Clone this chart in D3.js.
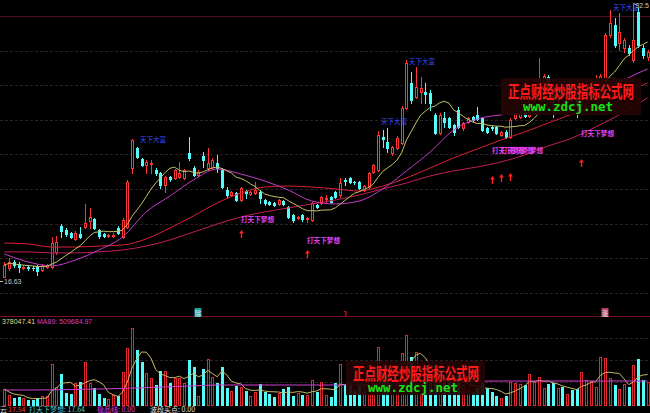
<!DOCTYPE html>
<html><head><meta charset="utf-8">
<script src="https://cdn.jsdelivr.net/npm/d3@7"></script>
<style>html,body{margin:0;padding:0;background:#000;overflow:hidden}</style>
</head><body><svg id="c" width="650" height="413"></svg>
<script>
const opens=[16.66,17.18,17.53,17.41,17.18,17.24,17.20,17.30,17.07,17.24,17.24,18.11,19.61,19.38,19.20,18.86,19.15,19.55,19.90,20.01,
19.38,19.15,19.03,19.03,19.49,18.97,19.55,22.96,24.12,23.48,23.13,23.19,22.84,22.67,21.98,22.44,22.38,22.44,22.38,23.83,
22.96,22.56,23.65,22.96,23.02,23.25,22.84,21.69,21.40,21.51,21.11,21.63,21.46,21.51,21.57,21.11,20.99,20.94,20.88,21.05,
20.71,20.24,20.07,20.24,20.01,19.96,20.82,20.94,21.17,21.28,21.57,21.40,22.27,22.38,22.15,22.15,21.69,21.86,22.73,22.84,
24.75,24.46,23.83,24.12,24.40,26.43,27.88,27.07,27.36,27.36,27.30,26.03,24.98,25.85,25.85,25.45,26.31,25.27,25.62,25.91,
26.03,25.85,25.27,25.33,25.33,24.87,25.04,24.75,25.85,25.91,26.14,25.97,26.89,27.36,27.93,28.22,27.59,26.89,27.47,27.13,
27.59,27.13,26.55,27.36,27.64,27.82,27.93,28.05,30.65,31.23,30.19,29.90,29.90,29.21,31.98,29.90,29.38];
const closes=[17.36,17.53,17.36,17.24,17.24,17.18,17.18,17.01,17.30,17.36,18.62,18.68,19.32,19.15,18.97,19.20,18.97,19.78,20.13,19.49,
19.03,19.03,19.09,19.09,19.20,19.96,22.15,24.58,23.60,23.13,23.31,23.25,22.67,21.98,22.44,22.32,22.84,22.67,22.84,23.54,
22.56,22.73,23.42,23.25,23.42,22.96,21.86,21.40,21.57,21.11,21.80,21.51,21.57,21.69,21.22,20.94,20.88,20.82,21.11,20.88,
20.13,19.96,20.13,20.01,20.07,20.94,20.71,21.28,21.22,20.99,21.28,22.09,22.21,22.15,22.13,21.80,21.92,22.67,23.13,24.87,
24.64,24.12,24.17,24.69,26.43,29.03,26.89,27.64,27.59,27.24,26.72,24.98,26.03,25.62,25.33,25.04,25.33,25.56,25.85,25.74,
25.79,25.16,25.04,25.27,24.98,25.04,24.75,25.74,26.08,26.14,25.97,26.89,27.47,28.17,28.28,27.59,26.89,27.47,27.13,27.59,
27.13,26.55,27.36,27.70,27.93,28.05,28.28,30.65,31.34,30.07,30.82,30.36,29.61,30.36,30.07,29.49,29.67];
const highs=[17.53,17.76,17.64,17.53,17.36,17.30,17.30,17.36,17.41,17.41,18.97,19.03,19.72,19.49,19.26,19.32,19.55,20.88,20.65,20.07,
19.44,19.20,19.15,19.20,19.61,20.07,22.27,24.64,24.17,23.54,23.42,23.42,22.96,22.73,22.50,22.50,22.90,23.31,22.90,24.75,
23.08,22.84,23.88,24.12,23.54,23.71,22.96,21.86,21.63,21.57,21.86,21.69,21.63,22.15,21.69,21.17,21.05,20.99,21.17,21.11,
20.76,20.30,20.19,20.30,20.13,20.99,20.88,21.34,21.40,21.34,21.63,22.38,22.38,22.44,22.21,22.21,21.98,22.73,23.19,25.10,
25.16,25.27,24.23,24.81,26.55,29.21,28.51,28.80,28.22,27.88,27.47,26.14,26.14,26.20,25.91,25.50,26.49,25.62,25.91,25.97,
26.49,25.91,25.33,25.39,25.39,25.10,25.16,25.85,26.20,26.26,26.26,27.01,27.59,29.32,28.40,28.34,27.70,27.59,27.64,27.70,
27.70,27.24,27.47,27.82,28.05,28.34,28.40,30.77,32.10,31.63,31.92,30.48,30.07,32.50,32.21,30.07,29.78];
const lows=[16.63,17.07,17.24,16.95,17.12,17.07,17.07,16.78,17.01,17.18,17.18,17.99,18.97,19.03,18.91,18.80,18.91,19.49,19.49,19.44,
18.91,18.97,18.97,18.97,19.15,18.91,19.49,22.67,23.54,23.08,22.67,22.67,22.56,21.80,21.57,22.21,22.32,22.38,22.32,23.42,
22.50,22.50,23.02,22.84,22.90,22.73,21.80,21.28,21.34,21.05,21.05,21.22,21.40,21.46,20.94,20.82,20.82,20.76,20.82,20.82,
20.07,19.84,20.01,19.90,19.84,19.90,20.65,20.88,20.99,20.94,21.22,21.28,21.98,22.09,22.04,21.75,21.63,21.80,22.67,22.79,
24.17,23.88,23.71,24.06,24.35,26.37,26.72,27.01,26.72,26.72,26.31,24.93,24.93,25.33,25.27,24.87,25.27,25.16,25.56,25.68,
25.74,25.10,24.98,25.16,24.93,24.81,24.69,24.69,25.79,25.85,25.91,25.91,26.78,27.24,27.70,27.36,25.91,26.66,26.89,27.01,
26.89,25.91,26.31,27.18,27.47,27.70,27.82,27.99,30.53,29.96,29.78,29.67,29.49,29.09,29.96,29.32,29.21];
const volumes=[544,340,238,272,238,170,170,238,306,306,1394,612,1054,408,374,748,782,1462,748,578,
374,238,204,340,306,1122,1938,2618,1870,1462,1088,918,680,1156,1156,748,918,918,748,1530,
1292,306,1224,1564,952,748,1292,578,476,646,612,476,306,442,714,442,374,272,408,544,
612,306,408,340,340,850,442,782,340,272,748,1394,680,680,510,680,578,1020,850,1972,
1122,1020,680,918,1768,2380,1632,1802,1190,1020,1122,1360,1258,918,850,680,1020,680,510,442,
578,748,578,442,306,238,306,782,748,714,680,1054,782,952,578,714,748,578,612,374,
510,544,1122,850,816,612,1632,1598,918,680,544,714,612,1360,1564,850,782];

const maIdx=[0,5,10,15,20,25,30,35,40,45,50,55,60,65,70,75,80,85,90,95,100,105,110,115,120,125,130,135,136];
const maPurple=[17.99,17.53,17.30,17.64,18.22,18.97,20.42,21.34,22.27,22.90,22.61,22.21,21.69,21.05,20.88,21.05,21.75,22.79,23.88,25.16,25.79,26.03,26.14,26.43,26.89,27.47,27.93,28.57,28.68];
const maRed=[18.62,18.57,18.39,18.39,18.45,18.51,18.86,19.49,20.19,20.94,21.51,21.86,21.92,21.86,21.75,21.63,21.92,22.38,22.96,23.54,24.06,24.58,25.04,25.56,26.08,26.66,27.24,27.76,27.88];
const maCrimson=[18.11,18.11,18.05,18.05,18.11,18.22,18.45,18.80,19.26,19.72,20.13,20.42,20.65,20.88,21.11,21.40,21.75,22.09,22.50,22.79,23.02,23.31,23.71,24.23,24.69,25.33,26.03,26.84,27.01];
const volMa89=[510,510,515,525,545,565,590,620,650,680,680,680,680,680,680,690,710,740,770,790,810,816,816,816,816,816,816,816,816];

const gridPrices=[15.75,17.75,19.75,21.75,23.75,25.75,27.75,29.75,31.75];
const volGrid=[782,1530,2278];

const signalIdx=[50,64,103,105,107,122];
const signalArrow=[19.15,17.99,22.27,22.38,22.44,23.25];
const signalLabel=[19.96,18.80,24.00,24.00,24.00,24.93];
const fortuneIdx=[28,79,85,128];
const fortunePrice=[24.58,25.62,29.09,32.21];
const markIdx=[41,72,127];
const markText=["除","3","涨"];

const W=650,H=413,N=opens.length;
const svg=d3.select("#c");
svg.append("rect").attr("width",W).attr("height",H).attr("fill","#000");
const x=d3.scaleLinear().domain([0,N]).range([2,650]);
const cx=i=>Math.round(x(i+0.5));
const y=d3.scaleLinear().domain([15.04,32.67]).range([305,0]);
const yv=d3.scaleLinear().domain([0,2958]).range([405,318]);
const RED="#ff3434", CYAN="#54fcfc";
const CJK="'Noto Sans CJK SC','Noto Sans',sans-serif";
const NUM="'Liberation Sans',Arial,sans-serif";

// grid
svg.append("g").selectAll("line").data(gridPrices).join("line")
  .attr("x1",0).attr("x2",W)
  .attr("y1",d=>Math.round(y(d))+0.5).attr("y2",d=>Math.round(y(d))+0.5)
  .attr("stroke",(d,i)=>i===gridPrices.length-1?"#4a1024":"#2c2026")
  .attr("stroke-dasharray",(d,i)=>i===gridPrices.length-1?null:"3,2");
svg.append("g").selectAll("line").data(volGrid).join("line")
  .attr("x1",0).attr("x2",W)
  .attr("y1",d=>Math.round(yv(d))+0.5).attr("y2",d=>Math.round(yv(d))+0.5)
  .attr("stroke","#2c2026").attr("stroke-dasharray","3,2");
svg.append("line").attr("x1",0).attr("x2",W).attr("y1",316.5).attr("y2",316.5).attr("stroke","#7a1028");

// candles
const cg=svg.append("g");
d3.range(N).forEach(i=>{
  const c=cx(i), up=closes[i]>=opens[i], col=up?RED:CYAN;
  cg.append("line").attr("x1",c+0.5).attr("x2",c+0.5)
    .attr("y1",Math.round(y(highs[i]))).attr("y2",Math.round(y(lows[i]))+1).attr("stroke",col);
  const t=Math.round(y(Math.max(opens[i],closes[i]))), b=Math.round(y(Math.min(opens[i],closes[i])));
  if(b-t<1){
    cg.append("line").attr("x1",c-1).attr("x2",c+2).attr("y1",t+0.5).attr("y2",t+0.5).attr("stroke",col);
  } else if(up){
    cg.append("rect").attr("x",c-0.5).attr("y",t+0.5).attr("width",2).attr("height",b-t)
      .attr("fill","#000").attr("stroke",col);
  } else {
    cg.append("rect").attr("x",c-1).attr("y",t).attr("width",3).attr("height",b-t+1).attr("fill",col);
  }
});

// moving averages
const ma10=closes.map((d,i)=>d3.mean(closes.slice(Math.max(0,i-9),i+1)));
const lineP=d3.line().x((d,i)=>x(i+0.5)).y(d=>y(d));
const lineS=d3.line().x((d,k)=>x(maIdx[k]+0.5)).y(d=>y(d)).curve(d3.curveMonotoneX);
svg.append("path").attr("d",lineS(maCrimson)).attr("fill","none").attr("stroke","#c41c58");
svg.append("path").attr("d",lineS(maRed)).attr("fill","none").attr("stroke","#dc2034");
svg.append("path").attr("d",lineS(maPurple)).attr("fill","none").attr("stroke","#c23ccc");
svg.append("path").attr("d",lineP(ma10)).attr("fill","none").attr("stroke","#c8c066");

// volume
const vg=svg.append("g");
d3.range(N).forEach(i=>{
  const c=cx(i), up=closes[i]>=opens[i];
  const t=Math.round(yv(volumes[i])), b=Math.round(yv(0));
  if(up) vg.append("rect").attr("x",c-0.5).attr("y",t+0.5).attr("width",2).attr("height",b-t)
    .attr("fill","#000").attr("stroke","#e0282e");
  else vg.append("rect").attr("x",c-1).attr("y",t).attr("width",3).attr("height",b-t+1).attr("fill",CYAN);
});
const vma5=volumes.map((d,i)=>d3.mean(volumes.slice(Math.max(0,i-4),i+1)));
svg.append("path").attr("d",d3.line().x((d,i)=>x(i+0.5)).y(d=>yv(d))(vma5)).attr("fill","none").attr("stroke","#c8b866");
svg.append("path").attr("d",d3.line().x((d,k)=>x(maIdx[k]+0.5)).y(d=>yv(d)).curve(d3.curveMonotoneX)(volMa89))
  .attr("fill","none").attr("stroke","#d040d0");

// signals
const sg=svg.append("g");
signalIdx.forEach((idx,k)=>{
  const c=cx(idx)+0.5, ya=Math.round(y(signalArrow[k]));
  sg.append("path").attr("d",`M${c},${ya-4}L${c-2.5},${ya-0.5}L${c+2.5},${ya-0.5}Z`).attr("fill","#ff2020");
  sg.append("line").attr("x1",c).attr("x2",c).attr("y1",ya-1).attr("y2",ya+4).attr("stroke","#ff2020").attr("stroke-width",1.4);
  sg.append("text").attr("x",cx(idx)).attr("y",y(signalLabel[k])).attr("dy","0.36em")
    .attr("font-family",CJK).attr("font-size",7.2).attr("font-weight","bold").attr("fill","#e040e8")
    .attr("textLength",33).attr("lengthAdjust","spacingAndGlyphs").text("打天下梦想");
});
fortuneIdx.forEach((idx,k)=>{
  svg.append("text").attr("x",cx(idx)+3).attr("y",y(fortunePrice[k])).attr("dy","0.36em")
    .attr("font-family",CJK).attr("font-size",6.8).attr("fill","#3a4cff")
    .attr("textLength",26).attr("lengthAdjust","spacingAndGlyphs").text("天下大富");
});

// extreme labels
const iMin=d3.minIndex(lows), iMax=d3.maxIndex(highs);
svg.append("line").attr("x1",0).attr("x2",3).attr("y1",Math.round(y(lows[iMin]))+4.5).attr("y2",Math.round(y(lows[iMin]))+4.5).attr("stroke","#bbb");
svg.append("text").attr("x",4).attr("y",y(lows[iMin])+7).attr("font-family",NUM).attr("font-size",7).attr("fill","#c8c8c8").text(lows[iMin].toFixed(2));
svg.append("line").attr("x1",cx(iMax)+1).attr("x2",cx(iMax)+4).attr("y1",Math.round(y(highs[iMax]))+0.5).attr("y2",Math.round(y(highs[iMax]))+2.5).attr("stroke","#bbb");
svg.append("text").attr("x",649).attr("y",y(highs[iMax])+5).attr("text-anchor","end").attr("font-family",NUM).attr("font-size",7).attr("fill","#c8c8c8").text(highs[iMax].toFixed(1));

// markers on separator
markIdx.forEach((idx,k)=>{
  const c=cx(idx), t=markText[k];
  const fill=t==="除"?"#1c9c9c":(t==="涨"?"#b4405c":null);
  if(fill) svg.append("rect").attr("x",c-3.5).attr("y",308).attr("width",7).attr("height",9).attr("fill",fill);
  svg.append("text").attr("x",c).attr("y",315.5).attr("text-anchor","middle").attr("font-family",CJK)
    .attr("font-size",6.5).attr("fill",fill?"#f0f0f0":"#ff3030").text(t);
});

// watermarks
function watermark(x0,y0,w,h,tx,ty,gx,gy){
  svg.append("rect").attr("x",x0).attr("y",y0).attr("width",w).attr("height",h).attr("fill","#240505").attr("opacity",0.93);
  svg.append("text").attr("x",tx).attr("y",ty).attr("font-family",CJK).attr("font-size",17).attr("font-weight","bold")
    .attr("fill","#ff1a1a").attr("textLength",126).attr("lengthAdjust","spacingAndGlyphs").text("正点财经炒股指标公式网");
  svg.append("text").attr("x",gx).attr("y",gy).attr("font-family","'DejaVu Sans Mono',monospace").attr("font-size",12).attr("font-weight","bold")
    .attr("fill","#18e018").attr("textLength",90).attr("lengthAdjust","spacingAndGlyphs").text("www.zdcj.net");
}
watermark(501,78,140,37,508,98,523,111);
watermark(346,361,139,34,353,380,368,392);

// header / footer texts
svg.append("text").attr("x",2).attr("y",324).attr("font-family",NUM).attr("font-size",7).attr("fill","#dcdc96").text("378047.41");
svg.append("text").attr("x",37).attr("y",324).attr("font-family",NUM).attr("font-size",7).attr("fill","#d040d0").text("MA89: 509684.97");
const foot=[{t:"云",x:0,c:"#d8d8d8"},{t:"17.54",x:8,c:"#ff3030"},{t:"打天下梦想: 17.64",x:29,c:"#40c8d0"},{t:"极品线: 0.00",x:97,c:"#e040e0"},{t:"波段买点: 0.00",x:150,c:"#e0e0e0"}];
svg.append("g").selectAll("text").data(foot).join("text").attr("x",d=>d.x).attr("y",412)
  .attr("font-family",CJK).attr("font-size",7).attr("fill",d=>d.c).text(d=>d.t);
</script></body></html>
